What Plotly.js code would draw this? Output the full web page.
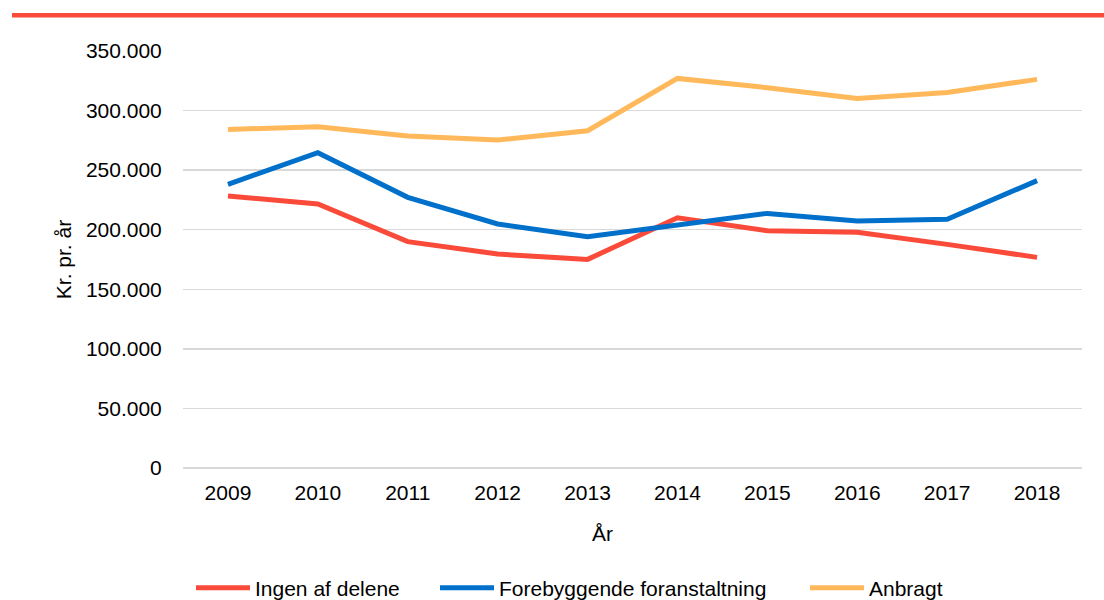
<!DOCTYPE html>
<html>
<head>
<meta charset="utf-8">
<script src="https://cdn.plot.ly/plotly-3.0.1.min.js"></script>
<style>
html,body{margin:0;padding:0;background:#fff;}
#chart{width:1104px;height:600px;}
</style>
</head>
<body>
<div id="chart"></div>
<script>
const years = ['2009','2010','2011','2012','2013','2014','2015','2016','2017','2018'];
const ingenAfDelene = [228300, 221600, 190000, 179600, 175100, 210000, 199200, 197800, 187700, 176800];
const forebyggende = [238100, 264600, 227200, 204800, 194100, 203600, 213700, 207300, 208700, 241200];
const anbragt = [284200, 286400, 278700, 275300, 283100, 327000, 319200, 310200, 315200, 326200];
const seriesNames = ['Ingen af delene', 'Forebyggende foranstaltning', 'Anbragt'];
const colors = ['#FA4B3A', '#0070CA', '#FFB95A'];
const xTitle = 'År';
const yTitle = 'Kr. pr. år';

const font = {family: 'Liberation Sans, Arial, sans-serif', size: 21, color: '#000'};
const legendIds = ['legend', 'legend2', 'legend3'];
const legendLeft = [191, 435, 805];

const traces = [ingenAfDelene, forebyggende, anbragt].map((vals, i) => ({
  type: 'scatter', mode: 'lines', x: years, y: vals, name: seriesNames[i],
  line: {color: colors[i], width: 5}, hoverinfo: 'skip', legend: legendIds[i]
}));

const layout = {
  width: 1104, height: 600,
  margin: {l: 183, r: 22, t: 51, b: 132},
  paper_bgcolor: '#fff', plot_bgcolor: '#fff',
  font: font,
  separators: ',.',
  showlegend: true,
  xaxis: {
    type: 'category', range: [-0.5, 9.5],
    showgrid: false, zeroline: false, showline: false,
    ticks: 'outside', ticklen: 6, tickcolor: 'rgba(0,0,0,0)',
    tickfont: font
  },
  yaxis: {
    range: [0, 350000], dtick: 50000, tick0: 0, tickformat: ',d',
    showgrid: true, gridcolor: '#D9D9D9', gridwidth: 1.5,
    zeroline: true, zerolinecolor: '#D9D9D9', zerolinewidth: 1.5,
    showline: false,
    ticks: 'outside', ticklen: 16, tickcolor: 'rgba(0,0,0,0)',
    tickfont: font,
    title: {text: yTitle, font: font, standoff: 8}
  },
  annotations: [{
    text: xTitle, xref: 'paper', yref: 'paper',
    x: (602 - 183) / 899, y: (468 - 533) / 417,
    xanchor: 'center', yanchor: 'middle', showarrow: false, font: font
  }],
  shapes: [{
    type: 'rect', xref: 'paper', yref: 'paper',
    x0: (12 - 183) / 899, x1: (1104 - 183) / 899,
    y0: (468 - 17.5) / 417, y1: (468 - 13) / 417,
    fillcolor: '#FA4B3A', line: {width: 0}, layer: 'above'
  }]
};
legendIds.forEach((id, i) => {
  layout[id] = {
    orientation: 'h', xref: 'container', yref: 'container',
    x: legendLeft[i] / 1104, xanchor: 'left', y: 0.02, yanchor: 'middle',
    font: font, itemwidth: 54, bgcolor: 'rgba(0,0,0,0)'
  };
});

Plotly.newPlot('chart', traces, layout, {displayModeBar: false, staticPlot: true});
</script>
</body>
</html>
